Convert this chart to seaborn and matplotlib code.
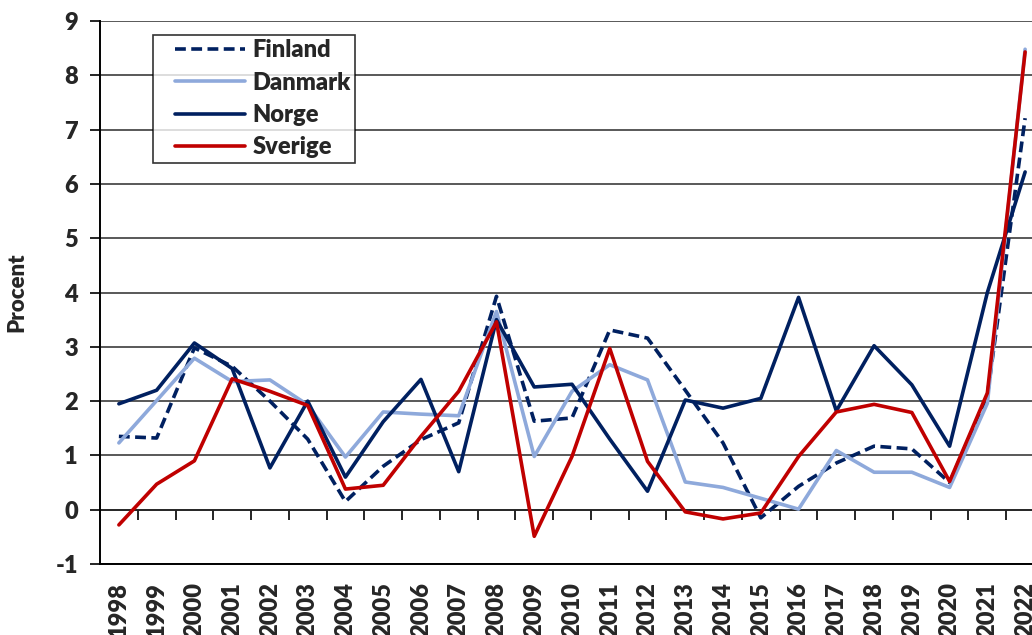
import numpy as np
import pandas as pd
import matplotlib
matplotlib.use("Agg")
import matplotlib.pyplot as plt
from matplotlib.lines import Line2D
from matplotlib.legend_handler import HandlerLine2D
import seaborn as sns

years = list(range(1998, 2023))

finland = [1.35, 1.32, 2.98, 2.64, 2.0, 1.3, 0.15, 0.8, 1.29, 1.6, 3.93, 1.63, 1.69,
           3.31, 3.16, 2.2, 1.23, -0.15, 0.43, 0.86, 1.17, 1.12, 0.5, 2.1, 7.21]
danmark = [1.23, 2.01, 2.79, 2.36, 2.39, 1.93, 0.97, 1.8, 1.76, 1.73, 3.65, 0.98, 2.18,
           2.67, 2.39, 0.51, 0.41, 0.21, 0.01, 1.09, 0.69, 0.69, 0.41, 1.96, 8.48]
norge = [1.95, 2.2, 3.07, 2.6, 0.77, 2.0, 0.6, 1.62, 2.4, 0.7, 3.5, 2.26, 2.31,
         1.3, 0.34, 2.02, 1.87, 2.05, 3.91, 1.82, 3.02, 2.3, 1.17, 4.0, 6.22]
sverige = [-0.28, 0.47, 0.9, 2.41, 2.18, 1.92, 0.38, 0.45, 1.35, 2.18, 3.46, -0.49, 0.98,
           2.97, 0.89, -0.04, -0.17, -0.06, 0.98, 1.8, 1.94, 1.79, 0.52, 2.15, 8.43]

countries = ["Finland", "Danmark", "Norge", "Sverige"]
colors = {"Finland": "#002060", "Danmark": "#8EA9DB", "Norge": "#002060", "Sverige": "#C00000"}
dashes = {"Finland": (3, 1.5), "Danmark": "", "Norge": "", "Sverige": ""}

df = pd.DataFrame({"year": years, "Finland": finland, "Danmark": danmark,
                   "Norge": norge, "Sverige": sverige})
long = df.melt(id_vars="year", var_name="land", value_name="procent")

sns.set_style("white")
plt.rcParams["font.family"] = ["Lato", "DejaVu Sans"]
plt.rcParams["font.weight"] = "heavy"
plt.rcParams["axes.unicode_minus"] = False

fig = plt.figure(figsize=(10.32, 6.35), dpi=100)
ax = fig.add_axes([100 / 1032, 71 / 635, 944 / 1032, 543 / 635])

sns.lineplot(data=long, x="year", y="procent", hue="land", style="land",
             hue_order=countries, style_order=countries, palette=colors,
             dashes=dashes, linewidth=2.6, ax=ax)

ax.set_xlim(1997.5, 2022.5)
ax.set_ylim(-1, 9)
ax.set_yticks(range(-1, 10))
ax.yaxis.grid(True, color="#2b2b2b", linewidth=1.1)
ax.set_axisbelow(True)

for side in ["top", "right"]:
    ax.spines[side].set_visible(False)
ax.spines["left"].set_color("black")
ax.spines["left"].set_linewidth(1.4)
ax.spines["bottom"].set_color("black")
ax.spines["bottom"].set_linewidth(1.4)

ax.tick_params(axis="y", direction="out", length=7, width=1.2, pad=9,
               labelsize=17, left=True, color="black")
ax.set_xticks(years)
ax.set_xticklabels([str(y) for y in years], rotation=90, fontsize=17, fontweight="heavy")
ax.tick_params(axis="x", length=0, pad=13)
for lab in ax.get_yticklabels():
    lab.set_fontweight("heavy")

# axis line with tick marks at zero
sec = ax.secondary_xaxis(0.1)
sec.set_xticks([y + 0.5 for y in years[:-1]])
sec.set_xticklabels([])
sec.tick_params(direction="out", length=7, width=1.2, color="black")
sec.spines["bottom"].set_color("black")
sec.spines["bottom"].set_linewidth(1.2)

ax.set_xlabel("")
ax.set_ylabel("Procent", fontsize=16, fontweight="heavy", labelpad=20)

leg = ax.legend(loc="upper left", bbox_to_anchor=(53 / 944, 1 - 14 / 543),
                fontsize=17, frameon=True, fancybox=False, handlelength=3.72,
                handletextpad=0.3, labelspacing=0.44, borderpad=0.18,
                borderaxespad=0, handler_map={Line2D: HandlerLine2D(xpad=0.75)})
leg.get_frame().set_edgecolor("black")
leg.get_frame().set_linewidth(1.2)
for t in leg.get_texts():
    t.set_fontweight("heavy")
for h in leg.get_lines():
    h.set_linewidth(2.6)

fig.savefig("out.png", dpi=100)
